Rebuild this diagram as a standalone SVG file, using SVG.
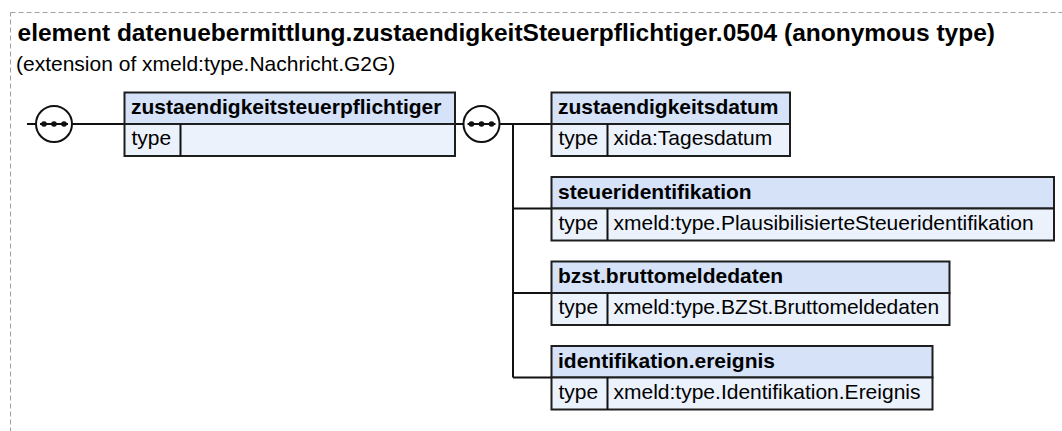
<svg xmlns="http://www.w3.org/2000/svg" width="1062" height="431" viewBox="0 0 1062 431">
<style>
.title{font-family:"Liberation Sans",Arial,sans-serif;font-weight:bold;font-size:24.5px;fill:#000}
.sub{font-family:"Liberation Sans",Arial,sans-serif;font-size:21px;fill:#000}
.hd{fill:#d5e2f8;stroke:#1e1e1e;stroke-width:2}
.rw{fill:#ebf2fc;stroke:#1e1e1e;stroke-width:2}
.ht{font-family:"Liberation Sans",Arial,sans-serif;font-weight:bold;font-size:21px;fill:#000}
.tt{font-family:"Liberation Sans",Arial,sans-serif;font-size:21px;fill:#000}
.ln{stroke:#111;stroke-width:2;fill:none}
.seq{fill:#fff;stroke:#111;stroke-width:2}
.dot{fill:#111}
</style>
<rect x="10.5" y="12.5" width="1070" height="440" fill="none" stroke="#a0a0a0" stroke-width="1" stroke-dasharray="5,3"/>
<text class="title" x="17.5" y="40.5">element datenuebermittlung.zustaendigkeitSteuerpflichtiger.0504 (anonymous type)</text>
<text class="sub" x="16" y="70.5">(extension of xmeld:type.Nachricht.G2G)</text>
<g id="connectors">
<path class="ln" d="M27 124H36M72 124H124.5M455 124H463.5M499.5 124H551.5M513 124V377.5M513 208.5H551.5M513 293H551.5M513 377.5H551.5"/>
</g>
<g id="seq1">
<circle class="seq" cx="54" cy="124" r="18"/>
<path class="ln" d="M40 124H68" stroke-width="1.5"/>
<circle class="dot" cx="44" cy="124" r="2.8"/><circle class="dot" cx="54" cy="124" r="2.8"/><circle class="dot" cx="64" cy="124" r="2.8"/>
</g>
<g id="node-zustaendigkeitsteuerpflichtiger">
<rect class="hd" x="124.5" y="92.5" width="330.5" height="31.5"/>
<rect class="rw" x="124.5" y="124" width="330.5" height="32"/>
<line class="ln" x1="180.5" y1="124" x2="180.5" y2="156"/>
<text class="ht" x="131" y="114">zustaendigkeitsteuerpflichtiger</text>
<text class="tt" x="131.5" y="145.3">type</text>
</g>
<g id="seq2">
<circle class="seq" cx="481.5" cy="124" r="18"/>
<path class="ln" d="M467.5 124H495.5" stroke-width="1.5"/>
<circle class="dot" cx="471.5" cy="124" r="2.8"/><circle class="dot" cx="481.5" cy="124" r="2.8"/><circle class="dot" cx="491.5" cy="124" r="2.8"/>
</g>
<g id="node-zustaendigkeitsdatum">
<rect class="hd" x="551.5" y="92.5" width="238.5" height="31.5"/>
<rect class="rw" x="551.5" y="124" width="238.5" height="32"/>
<line class="ln" x1="607.5" y1="124" x2="607.5" y2="156"/>
<text class="ht" x="558" y="114">zustaendigkeitsdatum</text>
<text class="tt" x="558.5" y="145.3">type</text>
<text class="tt" x="613.5" y="145.3">xida:Tagesdatum</text>
</g>
<g id="node-steueridentifikation">
<rect class="hd" x="551.5" y="177" width="502.5" height="31.5"/>
<rect class="rw" x="551.5" y="208.5" width="502.5" height="32"/>
<line class="ln" x1="607.5" y1="208.5" x2="607.5" y2="240.5"/>
<text class="ht" x="558" y="198.5">steueridentifikation</text>
<text class="tt" x="558.5" y="229.8">type</text>
<text class="tt" x="613.5" y="229.8">xmeld:type.PlausibilisierteSteueridentifikation</text>
</g>
<g id="node-bzst.bruttomeldedaten">
<rect class="hd" x="551.5" y="261.5" width="398" height="31.5"/>
<rect class="rw" x="551.5" y="293" width="398" height="32"/>
<line class="ln" x1="607.5" y1="293" x2="607.5" y2="325"/>
<text class="ht" x="558" y="283">bzst.bruttomeldedaten</text>
<text class="tt" x="558.5" y="314.3">type</text>
<text class="tt" x="613.5" y="314.3">xmeld:type.BZSt.Bruttomeldedaten</text>
</g>
<g id="node-identifikation.ereignis">
<rect class="hd" x="551.5" y="346" width="381" height="31.5"/>
<rect class="rw" x="551.5" y="377.5" width="381" height="32"/>
<line class="ln" x1="607.5" y1="377.5" x2="607.5" y2="409.5"/>
<text class="ht" x="558" y="367.5">identifikation.ereignis</text>
<text class="tt" x="558.5" y="398.8">type</text>
<text class="tt" x="613.5" y="398.8">xmeld:type.Identifikation.Ereignis</text>
</g>
</svg>
